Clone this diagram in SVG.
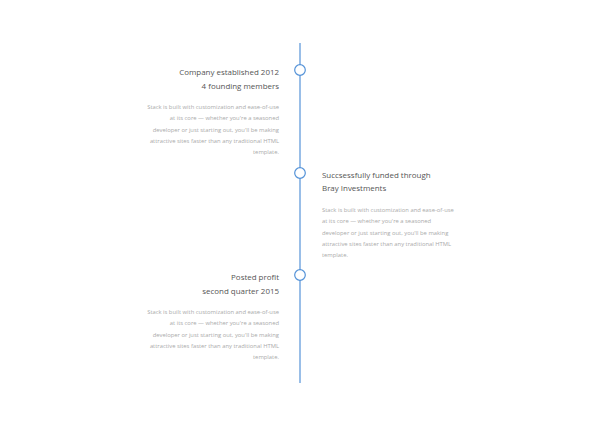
<svg xmlns="http://www.w3.org/2000/svg" width="600" height="427" viewBox="0 0 600 427">
<style>
.t{font-family:"Open Sans","Liberation Sans",sans-serif;font-size:7.95px;fill:#555;}
.b{font-family:"Open Sans","Liberation Sans",sans-serif;font-size:5.85px;fill:#aaa;}
.r{text-anchor:end;}
.dot{fill:#fff;stroke:#5593d8;stroke-width:1.2;}
</style>
<rect width="600" height="427" fill="#fff"/>
<g id="connectors">
<line x1="300" y1="43" x2="300" y2="383" stroke="#5593d8" stroke-width="1.2"/>
</g>
<g id="node1">
<circle class="dot" cx="300" cy="70" r="5.3"/>
<text class="t r" x="279" y="75">Company established 2012</text>
<text class="t r" x="279" y="89">4 founding members</text>
<text class="b r" x="279" y="109">Stack is built with customization and ease-of-use</text>
<text class="b r" x="279" y="120.3">at its core — whether you're a seasoned</text>
<text class="b r" x="279" y="131.6">developer or just starting out, you'll be making</text>
<text class="b r" x="279" y="142.9">attractive sites faster than any traditional HTML</text>
<text class="b r" x="279" y="154.2">template.</text>
</g>
<g id="node2">
<circle class="dot" cx="300" cy="173" r="5.3"/>
<text class="t" x="322" y="178">Succsessfully funded through</text>
<text class="t" x="322" y="191">Bray Investments</text>
<text class="b" x="322" y="212">Stack is built with customization and ease-of-use</text>
<text class="b" x="322" y="223.3">at its core — whether you're a seasoned</text>
<text class="b" x="322" y="234.6">developer or just starting out, you'll be making</text>
<text class="b" x="322" y="245.9">attractive sites faster than any traditional HTML</text>
<text class="b" x="322" y="257.2">template.</text>
</g>
<g id="node3">
<circle class="dot" cx="300" cy="275" r="5.3"/>
<text class="t r" x="279" y="280">Posted profit</text>
<text class="t r" x="279" y="294">second quarter 2015</text>
<text class="b r" x="279" y="314">Stack is built with customization and ease-of-use</text>
<text class="b r" x="279" y="325.3">at its core — whether you're a seasoned</text>
<text class="b r" x="279" y="336.6">developer or just starting out, you'll be making</text>
<text class="b r" x="279" y="347.9">attractive sites faster than any traditional HTML</text>
<text class="b r" x="279" y="359.2">template.</text>
</g>
</svg>
